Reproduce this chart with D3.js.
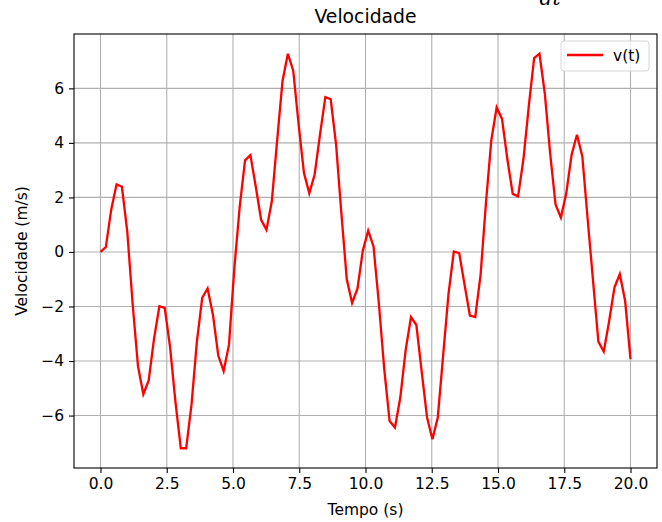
<!DOCTYPE html>
<html>
<head>
<meta charset="utf-8">
<script src="https://cdn.jsdelivr.net/npm/d3@7"></script>
<style>
  body { margin: 0; background: #fff; }
  svg { display: block; font-family: "DejaVu Sans", sans-serif; }
</style>
</head>
<body>
<svg id="chart" width="662" height="522"></svg>
<script>
// Velocity samples v(t), m/s, on a uniform grid of 100 instants from 0 to 20 s
const velocidade = [
   0.00,  0.18,  1.55,  2.48,  2.39,  0.75, -1.90, -4.19, -5.22, -4.71,
  -3.18, -1.99, -2.05, -3.50, -5.50, -7.20, -7.20, -5.60, -3.30, -1.68,
  -1.34, -2.30, -3.80, -4.37, -3.40, -0.60,  1.65,  3.36,  3.55,  2.40,
   1.18,  0.81,  1.86,  4.10,  6.27,  7.27,  6.65,  4.70,  2.90,  2.15,
   2.84,  4.30,  5.68,  5.60,  3.95,  1.40, -1.00, -1.87, -1.35,  0.05,
   0.78,  0.20, -1.90, -4.30, -6.20, -6.44, -5.34, -3.60, -2.39, -2.68,
  -4.40, -6.07, -6.87, -6.07, -3.80, -1.55,  0.02, -0.04, -1.20, -2.33,
  -2.39, -0.83,  1.80,  4.10,  5.30,  4.88,  3.40,  2.13,  2.04,  3.40,
   5.35,  7.11,  7.27,  5.80,  3.60,  1.74,  1.26,  2.15,  3.57,  4.30,
   3.50,  1.20, -1.05, -3.29, -3.65, -2.55, -1.31, -0.81, -1.80, -3.93
];
const tInicial = 0, tFinal = 20;
const tempo = velocidade.map((_, i) => tInicial + i * (tFinal - tInicial) / (velocidade.length - 1));

const xTicks = [0, 2.5, 5, 7.5, 10, 12.5, 15, 17.5, 20];
const yTicks = [-6, -4, -2, 0, 2, 4, 6];

const titulo = "Velocidade";
const rotuloX = "Tempo (s)";
const rotuloY = "Velocidade (m/s)";
const rotuloSerie = "v(t)";
const textoAcima = "dt";

const W = 662, H = 522;
const m = { top: 34, right: 5, bottom: 54, left: 74 };
const corLinha = "#ff0000";
const corGrade = "#b0b0b0";
const fonte = 15.5;

const svg = d3.select("#chart");

// Autoscale with 5% padding on each side
function comMargem(ext) {
  const p = (ext[1] - ext[0]) * 0.05;
  return [ext[0] - p, ext[1] + p];
}
const x = d3.scaleLinear().domain(comMargem(d3.extent(tempo))).range([m.left, W - m.right]);
const y = d3.scaleLinear().domain(comMargem(d3.extent(velocidade))).range([H - m.bottom, m.top]);

// Lower part of the label belonging to the figure above
svg.append("text")
  .attr("x", 550).attr("y", 5)
  .attr("text-anchor", "middle")
  .attr("font-family", "DejaVu Serif, serif")
  .attr("font-style", "italic")
  .attr("font-size", 20)
  .attr("fill", "#000")
  .text(textoAcima);

// Grid
const grade = svg.append("g");
grade.selectAll("line.gx").data(xTicks).join("line")
  .attr("x1", d => x(d)).attr("x2", d => x(d))
  .attr("y1", m.top).attr("y2", H - m.bottom)
  .attr("stroke", corGrade).attr("stroke-width", 1.1);
grade.selectAll("line.gy").data(yTicks).join("line")
  .attr("y1", d => y(d)).attr("y2", d => y(d))
  .attr("x1", m.left).attr("x2", W - m.right)
  .attr("stroke", corGrade).attr("stroke-width", 1.1);

// Series line
const linha = d3.line().x((d, i) => x(tempo[i])).y(d => y(d));
svg.append("path")
  .datum(velocidade)
  .attr("d", linha)
  .attr("fill", "none")
  .attr("stroke", corLinha)
  .attr("stroke-width", 2.3)
  .attr("stroke-linejoin", "miter");

// Axes
const eixoX = svg.append("g")
  .attr("transform", `translate(0,${H - m.bottom})`)
  .call(d3.axisBottom(x).tickValues(xTicks).tickFormat(d3.format(".1f")).tickSize(5).tickPadding(5));
const eixoY = svg.append("g")
  .attr("transform", `translate(${m.left},0)`)
  .call(d3.axisLeft(y).tickValues(yTicks).tickFormat(d3.format("d")).tickSize(5).tickPadding(5));
[eixoX, eixoY].forEach(g => {
  g.select(".domain").remove();
  g.selectAll(".tick line").attr("stroke", "#000").attr("stroke-width", 1.1);
  g.selectAll(".tick text").attr("font-size", fonte).attr("fill", "#000")
    .attr("font-family", "DejaVu Sans, sans-serif");
});

// Frame
svg.append("rect")
  .attr("x", m.left).attr("y", m.top)
  .attr("width", W - m.left - m.right).attr("height", H - m.top - m.bottom)
  .attr("fill", "none").attr("stroke", "#000").attr("stroke-width", 1.1);

// Titles
svg.append("text")
  .attr("x", (m.left + W - m.right) / 2).attr("y", 23)
  .attr("text-anchor", "middle").attr("font-size", 18.8).attr("fill", "#000")
  .text(titulo);
svg.append("text")
  .attr("x", (m.left + W - m.right) / 2).attr("y", 515)
  .attr("text-anchor", "middle").attr("font-size", fonte).attr("fill", "#000")
  .text(rotuloX);
svg.append("text")
  .attr("transform", `translate(27,${(m.top + H - m.bottom) / 2}) rotate(-90)`)
  .attr("text-anchor", "middle").attr("font-size", fonte).attr("fill", "#000")
  .text(rotuloY);

// Legend
const leg = svg.append("g").attr("transform", `translate(${W - m.right - 96},${m.top + 7})`);
leg.append("rect")
  .attr("x", 0).attr("y", 0).attr("width", 88).attr("height", 30).attr("rx", 3)
  .attr("fill", "#fff").attr("fill-opacity", 0.8)
  .attr("stroke", "#d6d6d6").attr("stroke-width", 1);
leg.append("line")
  .attr("x1", 6).attr("x2", 42).attr("y1", 14).attr("y2", 14)
  .attr("stroke", corLinha).attr("stroke-width", 2.3);
leg.append("text")
  .attr("x", 52).attr("y", 20)
  .attr("font-size", fonte).attr("fill", "#000")
  .text(rotuloSerie);
</script>
</body>
</html>
